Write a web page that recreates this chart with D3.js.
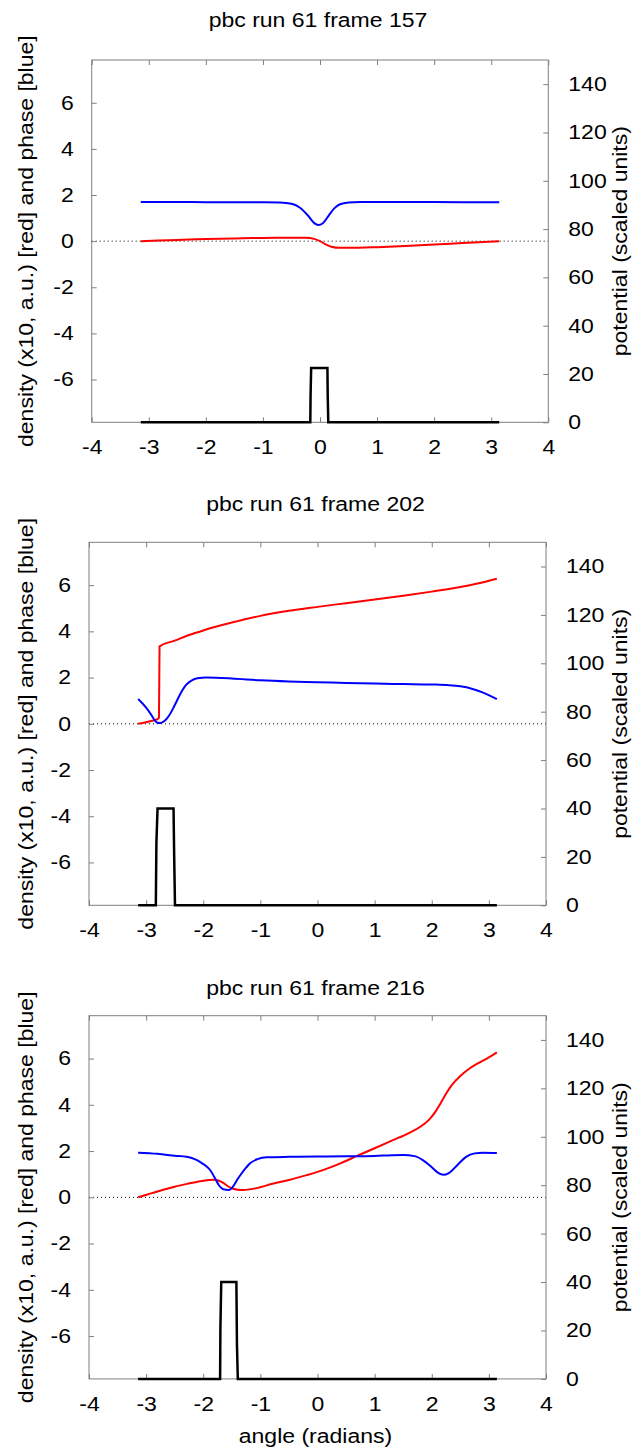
<!DOCTYPE html>
<html>
<head>
<meta charset="utf-8">
<script src="https://cdn.jsdelivr.net/npm/d3@7"></script>
<style>
  html, body { margin: 0; padding: 0; background: #fff; }
  svg { display: block; }
  text { font-family: "Liberation Sans", Arial, Helvetica, sans-serif; fill: #000; }
</style>
</head>
<body>
<svg id="chart" width="635" height="1454"></svg>
<script>
// ---------------- data ----------------
const titles = ["pbc run 61 frame 157", "pbc run 61 frame 202", "pbc run 61 frame 216"];
const xTicks = [-4, -3, -2, -1, 0, 1, 2, 3, 4];
const yTicks = [-6, -4, -2, 0, 2, 4, 6];
const y2Ticks = [0, 20, 40, 60, 80, 100, 120, 140];
const xDomain = [-4, 4];
const yDomain = [-7.854, 7.854];
const y2Domain = [0, 150];

// frame 157
const density157 = [[-3.14,0.0],[-2.5,0.05],[-2,0.09],[-1.5,0.12],[-1,0.14],[-0.5,0.15],[-0.25,0.15],[-0.1,0.1],[0,0.0],[0.1,-0.14],[0.2,-0.24],[0.35,-0.29],[0.5,-0.29],[1,-0.26],[1.5,-0.21],[2,-0.15],[2.5,-0.08],[3.14,0.0]];
const phase157 = [[-3.14,1.70],[-2.5,1.70],[-2,1.69],[-1.5,1.69],[-1,1.69],[-0.7,1.68],[-0.5,1.62],[-0.35,1.45],[-0.2,1.08],[-0.1,0.78],[-0.03,0.70],[0.05,0.78],[0.15,1.1],[0.25,1.42],[0.35,1.6],[0.5,1.68],[0.7,1.70],[1.5,1.70],[2.5,1.69],[3.14,1.69]];
const potential157 = [[-3.14,0],[-0.17,0],[-0.165,11.4],[-0.155,22.5],[0.13,22.5],[0.135,11.4],[0.145,0],[3.14,0]];

// frame 202
const density202 = [[-3.14,0],[-3.0,0.07],[-2.9,0.13],[-2.8,0.2],[-2.775,0.27],[-2.765,3.35],[-2.5,3.6],[-2.25,3.84],[-2.0,4.04],[-1.5,4.38],[-1,4.67],[-0.5,4.89],[0,5.06],[0.5,5.22],[1,5.38],[1.5,5.54],[2,5.72],[2.5,5.92],[2.8,6.07],[3.14,6.28]];
const phase202 = [[-3.14,1.07],[-3.0,0.7],[-2.9,0.35],[-2.85,0.15],[-2.8,0.05],[-2.75,0.04],[-2.68,0.12],[-2.6,0.35],[-2.5,0.8],[-2.4,1.3],[-2.3,1.68],[-2.2,1.88],[-2.1,1.97],[-1.95,2.0],[-1.5,1.96],[-1,1.88],[-0.5,1.83],[0,1.8],[0.5,1.77],[1,1.74],[1.5,1.72],[2,1.7],[2.3,1.67],[2.5,1.62],[2.7,1.52],[2.9,1.35],[3.05,1.18],[3.14,1.07]];
const potential202 = [[-3.14,0],[-2.83,0],[-2.82,26],[-2.80,40],[-2.52,40],[-2.51,22],[-2.495,0],[3.14,0]];

// frame 216
const density216 = [[-3.14,0],[-2.9,0.18],[-2.7,0.33],[-2.5,0.46],[-2.3,0.57],[-2.1,0.67],[-1.9,0.75],[-1.8,0.76],[-1.68,0.67],[-1.58,0.5],[-1.5,0.39],[-1.4,0.33],[-1.3,0.32],[-1.1,0.38],[-0.77,0.6],[-0.5,0.75],[-0.19,0.96],[0,1.1],[0.4,1.47],[0.7,1.8],[1,2.12],[1.3,2.45],[1.6,2.78],[1.8,3.05],[1.95,3.35],[2.05,3.65],[2.15,4.05],[2.25,4.48],[2.35,4.85],[2.5,5.25],[2.65,5.55],[2.8,5.78],[3.0,6.05],[3.14,6.27]];
const phase216 = [[-3.14,1.93],[-2.8,1.88],[-2.5,1.8],[-2.29,1.75],[-2.15,1.65],[-2.05,1.52],[-1.95,1.35],[-1.88,1.18],[-1.8,0.85],[-1.72,0.5],[-1.65,0.35],[-1.55,0.32],[-1.47,0.5],[-1.4,0.78],[-1.33,1.03],[-1.25,1.28],[-1.18,1.47],[-1.05,1.65],[-0.89,1.73],[-0.5,1.75],[0,1.76],[0.5,1.77],[1,1.79],[1.3,1.82],[1.5,1.83],[1.7,1.78],[1.85,1.6],[2.0,1.3],[2.1,1.08],[2.2,0.97],[2.3,1.05],[2.45,1.4],[2.6,1.75],[2.75,1.9],[2.9,1.93],[3.14,1.92]];
const potential216 = [[-3.14,0],[-1.705,0],[-1.70,20.5],[-1.685,40],[-1.42,40],[-1.41,14.3],[-1.395,0],[3.14,0]];

const densities = [density157, density202, density216];
const phases = [phase157, phase202, phase216];
const potentials = [potential157, potential202, potential216];

const yLabel = "density (x10, a.u.) [red] and phase [blue]";
const y2Label = "potential (scaled units)";
const xLabel = "angle (radians)";

// ---------------- layout ----------------
const frames = [
  {left: 91.7, right: 548.3, top: 60,     bottom: 422.3,  titleY: 27},
  {left: 89,   right: 546,   top: 542.3,  bottom: 905.3,  titleY: 511},
  {left: 89,   right: 546,   top: 1015.7, bottom: 1378.9, titleY: 995}
];
const FONT = 20;
const STRETCH = 1.15;   // gnuplot's font renders wider than Liberation Sans
const BOX = "#7f7f7f";
const fmt = d => String(d);   // plain hyphen-minus like gnuplot

const svg = d3.select("#chart");

frames.forEach((f, i) => {
  const x = d3.scaleLinear().domain(xDomain).range([f.left, f.right]);
  const y = d3.scaleLinear().domain(yDomain).range([f.bottom, f.top]);
  const y2 = d3.scaleLinear().domain(y2Domain).range([f.bottom, f.top]);
  const g = svg.append("g");

  // zero axis (dotted)
  g.append("line")
    .attr("x1", x(xDomain[0])).attr("x2", x(xDomain[1]))
    .attr("y1", y(0)).attr("y2", y(0))
    .attr("stroke", "#000").attr("stroke-width", 1)
    .attr("stroke-dasharray", "1,3");

  // axes
  const axStyle = sel => {
    sel.select(".domain").remove();
    sel.selectAll(".tick line").attr("stroke", BOX).attr("stroke-width", 1);
    sel.selectAll(".tick text").style("font-size", FONT + "px")
      .style("font-family", '"Liberation Sans", Arial, sans-serif');
  };
  g.append("g").attr("transform", `translate(0,${f.bottom})`)
    .call(d3.axisBottom(x).tickValues(xTicks).tickSize(-5).tickPadding(18).tickFormat(fmt))
    .call(axStyle);
  g.append("g").attr("transform", `translate(0,${f.top})`)
    .call(d3.axisTop(x).tickValues(xTicks).tickSize(-5).tickFormat(""))
    .call(axStyle);
  g.append("g").attr("transform", `translate(${f.left},0)`)
    .call(d3.axisLeft(y).tickValues(yTicks).tickSize(-5).tickPadding(18).tickFormat(fmt))
    .call(axStyle);
  g.append("g").attr("transform", `translate(${f.right},0)`)
    .call(d3.axisRight(y2).tickValues(y2Ticks).tickSize(-5).tickPadding(20).tickFormat(fmt))
    .call(axStyle);

  // box
  g.append("rect")
    .attr("x", f.left).attr("y", f.top)
    .attr("width", f.right - f.left).attr("height", f.bottom - f.top)
    .attr("fill", "none").attr("stroke", BOX).attr("stroke-width", 1);

  // series
  const lineY = d3.line().x(d => x(d[0])).y(d => y(d[1])).curve(d3.curveMonotoneX);
  const lineY2 = d3.line().x(d => x(d[0])).y(d => y2(d[1]));

  g.append("path").datum(potentials[i])
    .attr("d", lineY2).attr("fill", "none")
    .attr("stroke", "#000").attr("stroke-width", 2.5).attr("stroke-linejoin", "miter");
  g.append("path").datum(densities[i])
    .attr("d", lineY).attr("fill", "none")
    .attr("stroke", "#ff0000").attr("stroke-width", 2);
  g.append("path").datum(phases[i])
    .attr("d", lineY).attr("fill", "none")
    .attr("stroke", "#0000ff").attr("stroke-width", 2);

  // title
  g.append("text")
    .attr("x", (f.left + f.right) / 2 - 2).attr("y", f.titleY)
    .attr("text-anchor", "middle").style("font-size", FONT + "px")
    .text(titles[i]);

  // y labels
  const cy = (f.top + f.bottom) / 2;
  g.append("text")
    .attr("transform", `translate(33,${cy}) rotate(-90)`)
    .attr("text-anchor", "middle").style("font-size", FONT + "px")
    .text(yLabel);
  g.append("text")
    .attr("transform", `translate(627,${cy}) rotate(-90)`)
    .attr("text-anchor", "middle").style("font-size", FONT + "px")
    .text(y2Label);

  if (i === 2) {
    g.append("text")
      .attr("x", (f.left + f.right) / 2 - 2).attr("y", 1443)
      .attr("text-anchor", "middle").style("font-size", FONT + "px")
      .text(xLabel);
  }
});

// widen every text run to match the reference font's proportions
svg.selectAll("text").each(function () {
  const len = this.getComputedTextLength();
  if (len > 0) {
    d3.select(this)
      .attr("textLength", (len * STRETCH).toFixed(2))
      .attr("lengthAdjust", "spacingAndGlyphs");
  }
});
</script>
</body>
</html>
